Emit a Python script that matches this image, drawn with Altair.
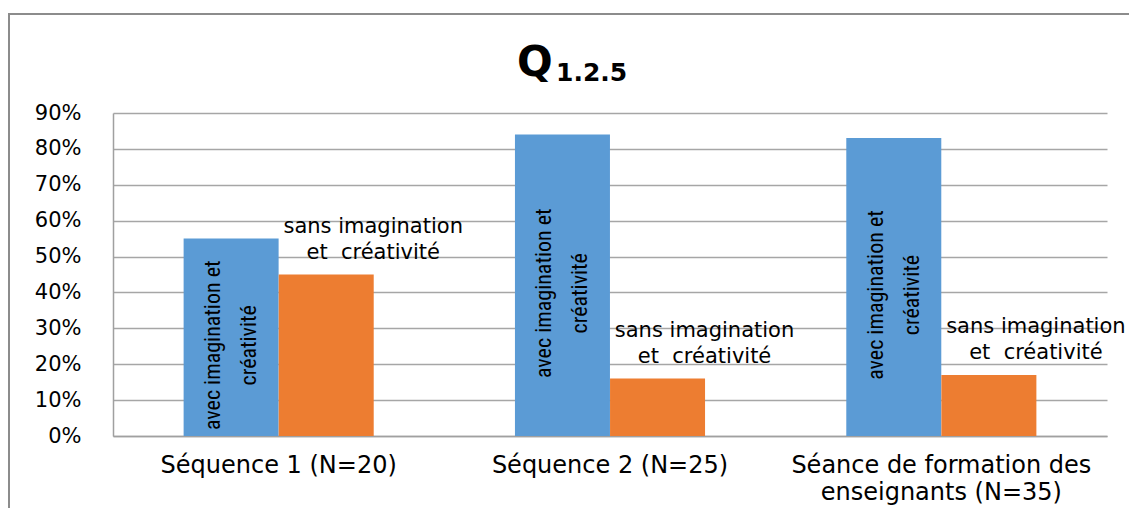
import altair as alt
import pandas as pd

# ---- data ----
groups = ["Séquence 1 (N=20)", "Séquence 2 (N=25)", "Séance de formation des\nenseignants (N=35)"]
series = ["avec imagination et créativité", "sans imagination et créativité"]
avec_values = [0.55, 0.84, 0.83]
sans_values = [0.45, 0.16, 0.17]
bar_labels = {"avec imagination et créativité": "avec imagination et\ncréativité",
              "sans imagination et créativité": "sans imagination\net \u00a0créativité"}
colors = ["#5b9bd5", "#ed7d31"]
y_ticks = [0, 0.1, 0.2, 0.3, 0.4, 0.5, 0.6, 0.7, 0.8, 0.9]

rows = []
for g, a, s in zip(groups, avec_values, sans_values):
    rows.append({"group": g, "series": series[0], "value": a, "label": bar_labels[series[0]]})
    rows.append({"group": g, "series": series[1], "value": s, "label": bar_labels[series[1]]})
df = pd.DataFrame(rows)

W, H = 994, 323
LEFT, TOP = 105, 105
TOTAL_W, TOTAL_H = 1121, 500

y_scale = alt.Scale(domain=[0, 0.9], nice=False, zero=True)
x_scale = alt.Scale(paddingInner=0.426, paddingOuter=0.213)

x_axis = alt.Axis(labelExpr="split(datum.label, '\\n')", labelAngle=0,
                  labelFont="DejaVu Sans", labelFontSize=24, labelColor="#000000",
                  labelPadding=17, labelLineHeight=27, labelLimit=0,
                  ticks=False, domainColor="#a0a0a0", domainWidth=1.5,
                  labelBaseline="top")
y_axis = alt.Axis(values=y_ticks, format=".0%", labelFont="DejaVu Sans",
                  labelFontSize=21, labelColor="#000000", labelPadding=32,
                  labelOverlap=False,
                  ticks=False, domainColor="#a0a0a0", domainWidth=1.5,
                  gridColor="#a6a6a6", gridWidth=1.5)

x_enc = alt.X("group:N", sort=groups, title=None, scale=x_scale, axis=x_axis)
xo_enc = alt.XOffset("series:N", sort=series, scale=alt.Scale(paddingInner=0, paddingOuter=0))

base = alt.Chart(df)

bars = base.mark_bar(size=95).encode(
    x=x_enc, xOffset=xo_enc,
    y=alt.Y("value:Q", title=None, scale=y_scale, axis=y_axis),
    color=alt.Color("series:N", sort=series,
                    scale=alt.Scale(domain=series, range=colors), legend=None),
)

avec_text = base.transform_filter(
    alt.datum.series == series[0]
).transform_calculate(
    mid="datum.value / 2"
).mark_text(angle=270, align="center", baseline="middle", lineBreak="\n",
            font="Liberation Sans Narrow, Roboto Condensed, Liberation Sans",
            fontSize=22, lineHeight=36, dx=-8, dy=-18, color="#000000").encode(
    x=x_enc, xOffset=xo_enc,
    y=alt.Y("mid:Q", title=None, scale=y_scale, axis=y_axis), text="label:N")

sans_text = base.transform_filter(
    alt.datum.series == series[1]
).mark_text(align="center", baseline="middle", lineBreak="\n",
            font="DejaVu Sans", fontSize=21, lineHeight=26, dx=47, dy=-48,
            color="#000000").encode(
    x=x_enc, xOffset=xo_enc,
    y=alt.Y("value:Q", title=None, scale=y_scale, axis=y_axis), text="label:N")

one = pd.DataFrame({"k": [0]})
frame = alt.Chart(one).mark_rect(fill=None, stroke="#8c8c8c", strokeWidth=2).encode(
    x=alt.value(9 - 113), x2=alt.value(1180 - 113),
    y=alt.value(14 - 113), y2=alt.value(560 - 113))

title_q = alt.Chart(one).mark_text(align="left", baseline="alphabetic",
                                   font="DejaVu Sans", fontWeight="bold",
                                   fontSize=42, color="#000000").encode(
    x=alt.value(517 - 113), y=alt.value(76 - 113), text=alt.value("Q"))
title_sub = alt.Chart(one).mark_text(align="left", baseline="alphabetic",
                                     font="DejaVu Sans", fontWeight="bold",
                                     fontSize=25, color="#000000").encode(
    x=alt.value(556 - 113), y=alt.value(81 - 113), text=alt.value("1.2.5"))

chart = alt.layer(frame, bars, avec_text, sans_text, title_q, title_sub).properties(
    width=W, height=H,
    background="white",
    autosize=alt.AutoSizeParams(type="none"),
    padding={"left": LEFT, "top": TOP, "right": TOTAL_W - LEFT - W, "bottom": TOTAL_H - TOP - H},
).configure_view(strokeWidth=0, stroke="transparent")

chart.save("out.html", embed_options={"renderer": "svg", "actions": False})
